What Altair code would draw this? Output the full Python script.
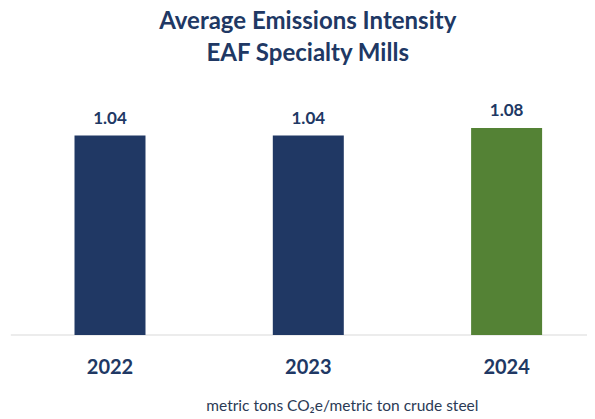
import altair as alt
import pandas as pd

years = ["2022", "2023", "2024"]
values = [1.04, 1.04, 1.08]
colors = ["#203864", "#203864", "#548235"]
labels = ["1.04", "1.04", "1.08"]

df = pd.DataFrame({"year": years, "value": values, "color": colors, "label": labels})

NAVY = "#203864"
FONT = "Lato"
YMAX = 1.288

x = alt.X("year:N", sort=years,
          scale=alt.Scale(domain=years, paddingInner=0.642, paddingOuter=0.2737, align=0.5864),
          axis=alt.Axis(domain=False, ticks=False, labelAngle=0, labelFont=FONT, labelFontSize=20,
                        labelFontWeight="bold", labelColor=NAVY, labelPadding=38,
                        labelBaseline="alphabetic",
                        title="metric tons CO₂e/metric ton crude steel", titleFont=FONT,
                        titleFontSize=15.5, titleFontWeight="normal", titleColor="#2B3A55",
                        titleX=331, titleY=75.7, titleBaseline="alphabetic", titleAnchor="middle"))
y = alt.Y("value:Q", scale=alt.Scale(domain=[0, YMAX], nice=False, zero=True), axis=None)

bars = alt.Chart(df).mark_bar().encode(x=x, y=y, color=alt.Color("color:N", scale=None))
text = alt.Chart(df).mark_text(baseline="alphabetic", dy=-12, font=FONT, fontSize=17,
                               fontWeight="bold", color=NAVY).encode(x=x, y=y, text="label:N")
rule = alt.Chart(pd.DataFrame({"v": [0.0]})).mark_rule(color="#d9d9d9", strokeWidth=1.2).encode(
    y=alt.Y("v:Q", scale=alt.Scale(domain=[0, YMAX], nice=False), axis=None),
    x=alt.value(0), x2=alt.value(590))

chart = alt.layer(rule, bars, text).properties(
    width=576.15, height=247,
    autosize=alt.AutoSizeParams(type="none"),
    padding={"left": 2.85, "right": 0, "top": 80, "bottom": 80},
    title=alt.TitleParams(["Average Emissions Intensity", "EAF Specialty Mills"], font=FONT,
                          fontSize=24, fontWeight="bold", color=NAVY, lineHeight=32,
                          anchor="middle", offset=22, dx=8.8),
).configure_view(stroke=None)

chart.save("out.html", embed_options={"renderer": "svg", "actions": False})
